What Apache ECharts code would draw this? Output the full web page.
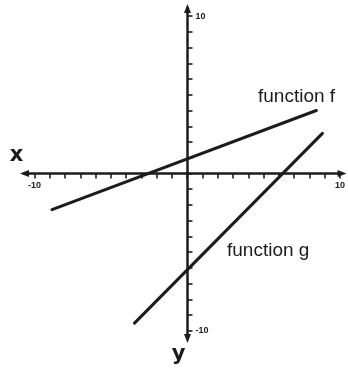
<!DOCTYPE html>
<html>
<head>
<meta charset="utf-8">
<script src="https://cdn.jsdelivr.net/npm/echarts@6/dist/echarts.min.js"></script>
<style>
  html, body { margin: 0; padding: 0; background: #ffffff; }
  #chart { width: 348px; height: 371px; }
</style>
</head>
<body>
<div id="chart"></div>
<script>
// Tick positions and labelled ticks
const tickValues = [-10, -9, -8, -7, -6, -5, -4, -3, -2, -1, 0, 1, 2, 3, 4, 5, 6, 7, 8, 9, 10];
const labelValues = [-10, 10];

// function f (line segment endpoints)
const fX = [-8.85, 8.45];
const fY = [-2.3, 4.0];

// function g (line segment endpoints)
const gX = [-3.45, 8.85];
const gY = [-9.5, 2.55];

const seriesNames = ['function f', 'function g'];
const axisNames = ['x', 'y'];

const ink = '#1c1c1c';
const toPairs = (xs, ys) => xs.map((x, i) => [x, ys[i]]);

// axis ranges
const xMin = -10.65, xMax = 10.13;
const yMin = -10.48, yMax = 10.48;

const W = 348, H = 371;
const gridL = 24.5, gridR = 5.5, gridT = 8.5, gridB = 32.5;
const gw = W - gridL - gridR, gh = H - gridT - gridB;
// move axes so they cross at zero (offset = distance from grid edge to zero)
const xAxisOffset = -(gh * (0 - yMin) / (yMax - yMin));
const yAxisOffset = -(gw * (0 - xMin) / (xMax - xMin));

const chart = echarts.init(document.getElementById('chart'), null, { renderer: 'canvas' });

const labelStyle = {
  fontFamily: 'Liberation Sans, Arial, sans-serif',
  fontWeight: 'bold',
  fontSize: 9,
  color: ink
};

chart.setOption({
  backgroundColor: '#ffffff',
  animation: false,
  grid: { left: gridL, right: gridR, top: gridT, bottom: gridB, containLabel: false },
  xAxis: {
    type: 'value',
    position: 'bottom',
    offset: xAxisOffset,
    min: xMin,
    max: xMax,
    axisLine: {
      onZero: false,
      symbol: ['triangle', 'triangle'],
      symbolSize: [7, 9],
      lineStyle: { color: ink, width: 2.5 }
    },
    axisTick: {
      show: true,
      customValues: tickValues,
      length: 5,
      lineStyle: { color: ink, width: 1.6 }
    },
    axisLabel: Object.assign({ customValues: labelValues, margin: 8 }, labelStyle),
    splitLine: { show: false }
  },
  yAxis: {
    type: 'value',
    position: 'left',
    offset: yAxisOffset,
    min: yMin,
    max: yMax,
    axisLine: {
      onZero: false,
      symbol: ['triangle', 'triangle'],
      symbolSize: [7, 9],
      lineStyle: { color: ink, width: 2.5 }
    },
    axisTick: {
      show: true,
      inside: true,
      customValues: tickValues,
      length: 5,
      lineStyle: { color: ink, width: 1.6 }
    },
    axisLabel: Object.assign({ customValues: labelValues, inside: true, margin: 8 }, labelStyle),
    splitLine: { show: false }
  },
  series: [
    {
      name: seriesNames[0],
      type: 'line',
      data: toPairs(fX, fY),
      showSymbol: false,
      symbol: 'none',
      lineStyle: { color: ink, width: 3, cap: 'round' },
      z: 5
    },
    {
      name: seriesNames[1],
      type: 'line',
      data: toPairs(gX, gY),
      showSymbol: false,
      symbol: 'none',
      lineStyle: { color: ink, width: 3, cap: 'round' },
      z: 5
    }
  ],
  graphic: [
    {
      type: 'text', x: 258, y: 97,
      style: { text: seriesNames[0], fill: ink, font: '19px "Liberation Sans", Arial, sans-serif', textAlign: 'left', verticalAlign: 'middle' }
    },
    {
      type: 'text', x: 227, y: 250.5,
      style: { text: seriesNames[1], fill: ink, font: '19px "Liberation Sans", Arial, sans-serif', textAlign: 'left', verticalAlign: 'middle' }
    },
    {
      type: 'text', x: 16.5, y: 156,
      style: { text: axisNames[0], fill: ink, font: 'bold 21px "DejaVu Sans", sans-serif', textAlign: 'center', verticalAlign: 'middle' }
    },
    {
      type: 'text', x: 178.5, y: 355,
      style: { text: axisNames[1], fill: ink, font: 'bold 21px "DejaVu Sans", sans-serif', textAlign: 'center', verticalAlign: 'middle' }
    }
  ]
});
</script>
</body>
</html>
